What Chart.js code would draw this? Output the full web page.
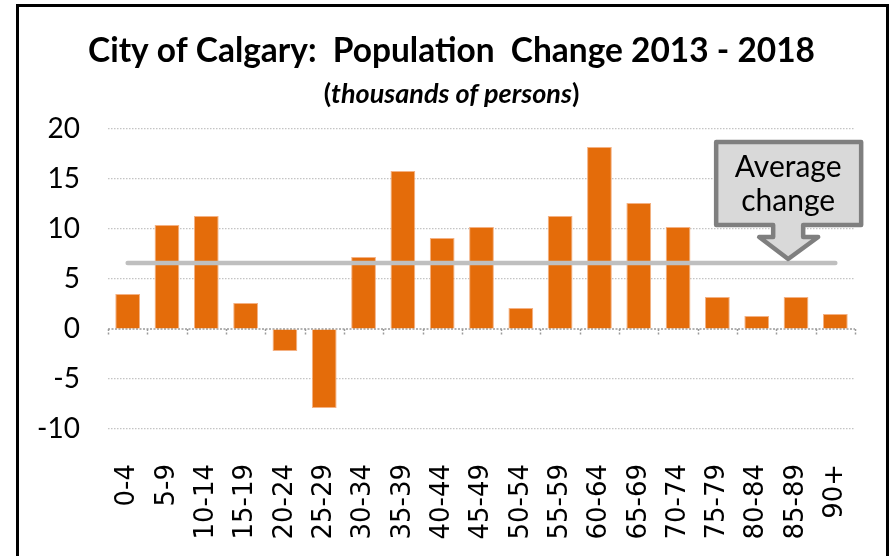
<!DOCTYPE html>
<html>
<head>
<meta charset="utf-8">
<script src="https://cdn.jsdelivr.net/npm/chart.js@4.4.1/dist/chart.umd.min.js"></script>
<style>
html, body { margin: 0; padding: 0; background: #fff; overflow: hidden; }
#wrap { position: relative; width: 892px; height: 556px; overflow: hidden; }
#frame { position: absolute; left: 16px; top: 4px; width: 867px; height: 600px; border: 3px solid #000; pointer-events: none; }
</style>
</head>
<body>
<div id="wrap">
    <canvas id="popChart" width="892" height="556"></canvas>
    <div id="frame"></div>
</div>
<script>
const ageGroups = ['0-4', '5-9', '10-14', '15-19', '20-24', '25-29', '30-34', '35-39', '40-44', '45-49',
    '50-54', '55-59', '60-64', '65-69', '70-74', '75-79', '80-84', '85-89', '90+'];
// thousands of persons
const popChange = [3.5, 10.4, 11.3, 2.6, -2.2, -7.9, 7.2, 15.8, 9.1, 10.2,
    2.1, 11.3, 18.2, 12.6, 10.2, 3.2, 1.3, 3.2, 1.5];
const averageChange = 6.6;
const averageLine = ageGroups.map(() => averageChange);
const yTicks = [-10, -5, 0, 5, 10, 15, 20];

const titleText = 'City of Calgary:  Population  Change 2013 - 2018';
const calloutLines = ['Average', 'change'];

// draws text squeezed to a target width (source font is Calibri-narrow)
const fitText = (ctx, text, cx, y, font, targetW) => {
    ctx.font = font;
    const w = ctx.measureText(text).width;
    const sx = Math.min(1, targetW / w);
    ctx.save();
    ctx.translate(cx, y);
    ctx.scale(sx, 1);
    ctx.textAlign = 'center';
    ctx.fillText(text, 0, 0);
    ctx.restore();
};

const titlePlugin = {
    id: 'titles',
    afterDraw: (chart) => {
        const ctx = chart.ctx;
        ctx.save();
        ctx.fillStyle = '#000';
        ctx.textBaseline = 'alphabetic';
        fitText(ctx, titleText, 451.5, 62, 'bold 35px Lato', 727);

        // subtitle: bold parens, bold italic words
        const parts = [['(', 'bold 27px Lato'], ['thousands of persons', 'italic bold 27px Lato'], [')', 'bold 27px Lato']];
        let total = 0;
        parts.forEach(p => { ctx.font = p[1]; total += ctx.measureText(p[0]).width; });
        const sx = Math.min(1, 283 / total);
        ctx.translate(451.5 - total * sx / 2, 103);
        ctx.scale(sx, 1);
        let x = 0;
        parts.forEach(p => {
            ctx.font = p[1];
            ctx.textAlign = 'left';
            ctx.fillText(p[0], x, 0);
            x += ctx.measureText(p[0]).width;
        });
        ctx.restore();
    }
};

// dotted zero axis with small tick marks between categories
const zeroAxisPlugin = {
    id: 'zeroAxis',
    beforeDatasetsDraw: (chart) => {
        const { ctx, scales: { x, y } } = chart;
        const y0 = y.getPixelForValue(0);
        const n = ageGroups.length;
        ctx.save();
        ctx.strokeStyle = '#9a9a9a';
        ctx.lineWidth = 1.5;
        ctx.setLineDash([2, 1.5]);
        ctx.beginPath();
        ctx.moveTo(x.left, y0);
        ctx.lineTo(x.right, y0);
        for (let i = 0; i <= n; i++) {
            const px = Math.round(x.left + i * x.width / n) + 0.5;
            ctx.moveTo(px, y0);
            ctx.lineTo(px, y0 + 7);
        }
        ctx.stroke();
        ctx.restore();
    }
};

const calloutPlugin = {
    id: 'callout',
    afterDatasetsDraw: (chart) => {
        const { ctx, scales: { x, y } } = chart;
        const tipX = x.getPixelForValue(16.8);
        const tipY = y.getPixelForValue(averageChange) - 4;
        const boxL = tipX - 72, boxR = tipX + 73, boxT = 142, boxB = 225;
        const stemL = tipX - 15, stemR = tipX + 15, headL = tipX - 29, headR = tipX + 30, headT = 237;
        ctx.save();
        ctx.beginPath();
        ctx.moveTo(boxL, boxT);
        ctx.lineTo(boxR, boxT);
        ctx.lineTo(boxR, boxB);
        ctx.lineTo(stemR, boxB);
        ctx.lineTo(stemR, headT);
        ctx.lineTo(headR, headT);
        ctx.lineTo(tipX, tipY);
        ctx.lineTo(headL, headT);
        ctx.lineTo(stemL, headT);
        ctx.lineTo(stemL, boxB);
        ctx.lineTo(boxL, boxB);
        ctx.closePath();
        ctx.fillStyle = '#d9d9d9';
        ctx.fill();
        ctx.lineWidth = 4.5;
        ctx.lineJoin = 'round';
        ctx.strokeStyle = '#7f7f7f';
        ctx.stroke();
        ctx.fillStyle = '#000';
        fitText(ctx, calloutLines[0], tipX, 177, '30px Lato', 110);
        fitText(ctx, calloutLines[1], tipX, 211, '30px Lato', 98);
        ctx.restore();
    }
};

new Chart(document.getElementById('popChart'), {
    type: 'bar',
    data: {
        labels: ageGroups,
        datasets: [
            {
                type: 'line',
                label: 'Average change',
                data: averageLine,
                borderColor: '#bfbfbf',
                borderWidth: 4.5,
                borderCapStyle: 'round',
                pointRadius: 0,
                order: 0
            },
            {
                label: 'Population change',
                data: popChange,
                backgroundColor: '#e46c0a',
                borderColor: '#f4b183',
                borderWidth: 1,
                categoryPercentage: 1,
                barPercentage: 0.63,
                order: 1
            }
        ]
    },
    options: {
        responsive: false,
        animation: false,
        layout: { padding: { top: 129, left: 0, right: 37, bottom: 0 } },
        plugins: {
            legend: { display: false },
            title: { display: false },
            tooltip: { enabled: false }
        },
        scales: {
            x: {
                grid: { display: false, drawTicks: false },
                border: { display: false },
                ticks: {
                    autoSkip: false,
                    minRotation: 90,
                    maxRotation: 90,
                    padding: 35,
                    color: '#000',
                    font: { family: 'DejaVu Sans', size: 26 }
                },
                afterFit: (scale) => {
                    scale.height = 127;
                    // keep the rotated labels from pushing the plot area in
                    scale.paddingLeft = 0;
                    scale.paddingRight = 0;
                }
            },
            y: {
                min: yTicks[0],
                max: yTicks[yTicks.length - 1],
                afterBuildTicks: (scale) => { scale.ticks = yTicks.map(v => ({ value: v })); },
                grid: {
                    drawTicks: false,
                    color: (c) => c.tick && c.tick.value === 0 ? 'rgba(0,0,0,0)' : '#c4c4c4',
                    lineWidth: 1.2
                },
                border: { display: false, dash: [1.5, 1.5] },
                ticks: {
                    padding: 28,
                    color: '#000',
                    font: { family: 'Lato', size: 28 }
                },
                afterFit: (scale) => { scale.width = 108; }
            }
        }
    },
    plugins: [zeroAxisPlugin, calloutPlugin, titlePlugin]
});
</script>
</body>
</html>
